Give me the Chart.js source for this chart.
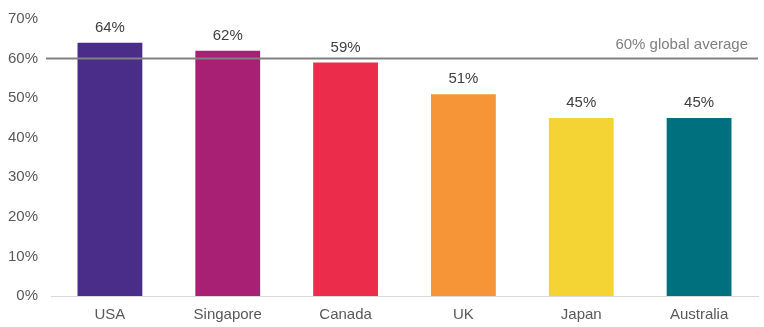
<!DOCTYPE html>
<html>
<head>
<meta charset="utf-8">
<script src="https://cdn.jsdelivr.net/npm/chart.js@4.4.0/dist/chart.umd.min.js"></script>
<style>
  html, body { margin: 0; padding: 0; background: #fff; }
  #wrap { width: 764px; height: 327px; position: relative; }
</style>
</head>
<body>
<div id="wrap"><canvas id="chart"></canvas></div>
<script>
// --- Data ---
const countries = ['USA', 'Singapore', 'Canada', 'UK', 'Japan', 'Australia'];
const shares = [64, 62, 59, 51, 45, 45];
const barColors = ['#4a2d89', '#a82073', '#eb2d4b', '#f59538', '#f4d434', '#00707f'];
const globalAverage = 60;
const averageLabel = '60% global average';

const FONT = '"Liberation Sans", Arial, sans-serif';

// value labels above each bar
const barLabels = {
  id: 'barLabels',
  afterDatasetsDraw(chart) {
    const ctx = chart.ctx;
    const meta = chart.getDatasetMeta(0);
    ctx.save();
    ctx.font = '15px ' + FONT;
    ctx.fillStyle = '#404040';
    ctx.textAlign = 'center';
    ctx.textBaseline = 'alphabetic';
    meta.data.forEach((bar, i) => {
      ctx.fillText(shares[i] + '%', bar.x, bar.y - 11);
    });
    ctx.restore();
  }
};

// global average reference line + its label
const averageLine = {
  id: 'averageLine',
  afterDatasetsDraw(chart) {
    const ctx = chart.ctx;
    const y = chart.scales.y.getPixelForValue(globalAverage);
    const area = chart.chartArea;
    ctx.save();
    ctx.strokeStyle = '#808080';
    ctx.lineWidth = 2;
    ctx.beginPath();
    ctx.moveTo(area.left - 5, y);
    ctx.lineTo(area.right, y);
    ctx.stroke();
    ctx.font = '15px ' + FONT;
    ctx.fillStyle = '#808080';
    ctx.textAlign = 'right';
    ctx.textBaseline = 'alphabetic';
    ctx.fillText(averageLabel, area.right - 10, y - 10);
    ctx.restore();
  }
};

new Chart(document.getElementById('chart'), {
  type: 'bar',
  data: {
    labels: countries,
    datasets: [{
      data: shares,
      backgroundColor: barColors,
      borderWidth: 0,
      categoryPercentage: 1,
      barPercentage: 0.55
    }]
  },
  options: {
    responsive: true,
    maintainAspectRatio: false,
    animation: false,
    events: [],
    layout: { padding: { top: 19, right: 6, left: 0, bottom: 4 } },
    plugins: {
      legend: { display: false },
      tooltip: { enabled: false }
    },
    scales: {
      x: {
        grid: { display: false, drawTicks: false },
        border: { display: true, color: '#d9d9d9', width: 1 },
        ticks: { color: '#595959', font: { family: FONT, size: 15 }, padding: 10 },
        afterFit: scale => { scale.height = 27; }
      },
      y: {
        min: 0,
        max: 70,
        grid: { display: false, drawTicks: false },
        border: { display: false },
        ticks: {
          stepSize: 10,
          color: '#595959',
          font: { family: FONT, size: 15 },
          padding: 13,
          callback: v => v + '%'
        },
        afterFit: scale => {
          scale.width = 51;
          scale.paddingTop = 0;
          scale.paddingBottom = 0;
        }
      }
    }
  },
  plugins: [barLabels, averageLine]
});
</script>
</body>
</html>
